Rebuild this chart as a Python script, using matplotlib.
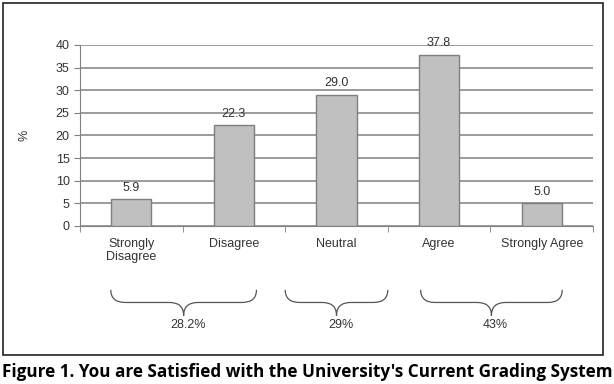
import numpy as np
import matplotlib.pyplot as plt
from matplotlib.path import Path
from matplotlib.patches import PathPatch, Rectangle

# survey answers
categories = ["Strongly\nDisagree", "Disagree", "Neutral", "Agree", "Strongly Agree"]
percent = [5.9, 22.3, 29.0, 37.8, 5.0]

# grouped totals shown under the braces
group_labels = ["28.2%", "29%", "43%"]
group_spans = [(-0.2, 1.22), (1.5, 2.5), (2.82, 4.2)]

plt.rcParams["font.family"] = ["Liberation Sans", "DejaVu Sans"]

fig = plt.figure(figsize=(6.14, 3.84), dpi=100)
ax = fig.add_axes([0.1303, 0.4115, 0.8355, 0.4714])

x = np.arange(len(categories))
ax.bar(x, percent, width=0.39, color="#c0c0c0", edgecolor="#7f7f7f", linewidth=1, zorder=3)

for xi, v in zip(x, percent):
    ax.annotate(f"{v:.1f}", (xi, v), xytext=(0, 4), textcoords="offset points",
                ha="center", va="bottom", fontsize=9, color="#333333")

ax.set_xlim(-0.5, len(categories) - 0.5)
ax.set_ylim(0, 40)
ax.set_yticks(range(0, 41, 5))
ax.yaxis.grid(True, color="#808080", linewidth=1.1, zorder=0)
ax.set_xticks(x)
ax.set_xticklabels(categories, fontsize=9, color="#333333", linespacing=1.1)
ax.set_xticks(np.arange(-0.5, len(categories), 1), minor=True)
ax.tick_params(axis="x", which="major", length=0, pad=9)
ax.tick_params(axis="x", which="minor", length=4, color="#808080")
ax.tick_params(axis="y", length=4, color="#808080", labelsize=9, labelcolor="#333333")
for s in ["top", "right"]:
    ax.spines[s].set_visible(False)
ax.spines["left"].set_color("#808080")
ax.spines["bottom"].set_color("#808080")
ax.set_ylabel("%", fontsize=9, color="#333333", labelpad=18)

# braces below the category labels
ytop, ymid, ybot, r = -14.1, -16.9, -19.8, 0.14
for (x0, x1), lab in zip(group_spans, group_labels):
    xm = (x0 + x1) / 2
    verts = [(x0, ytop), (x0, ymid), (x0 + r, ymid),
             (xm - r, ymid), (xm, ymid), (xm, ybot),
             (xm, ymid), (xm + r, ymid),
             (x1 - r, ymid), (x1, ymid), (x1, ytop)]
    codes = [Path.MOVETO, Path.CURVE3, Path.CURVE3,
             Path.LINETO, Path.CURVE3, Path.CURVE3,
             Path.CURVE3, Path.CURVE3,
             Path.LINETO, Path.CURVE3, Path.CURVE3]
    ax.add_patch(PathPatch(Path(verts, codes), fill=False, edgecolor="#555555",
                           linewidth=0.9, clip_on=False))
    ax.text(xm + 0.04, ybot - 0.8, lab, ha="center", va="top", fontsize=9,
            color="#333333", clip_on=False)

# outer frame
fig.patches.append(Rectangle((0.005, 0.0755), 0.977, 0.9165, transform=fig.transFigure,
                             fill=False, edgecolor="#222222", linewidth=1.2))

fig.text(0.004, 0.032, "Figure 1. You are Satisfied with the University's Current Grading System",
         ha="left", va="center", fontsize=12.3, fontweight="bold",
         family=["Open Sans", "DejaVu Sans"], color="black")

fig.savefig("out.png", dpi=100)
